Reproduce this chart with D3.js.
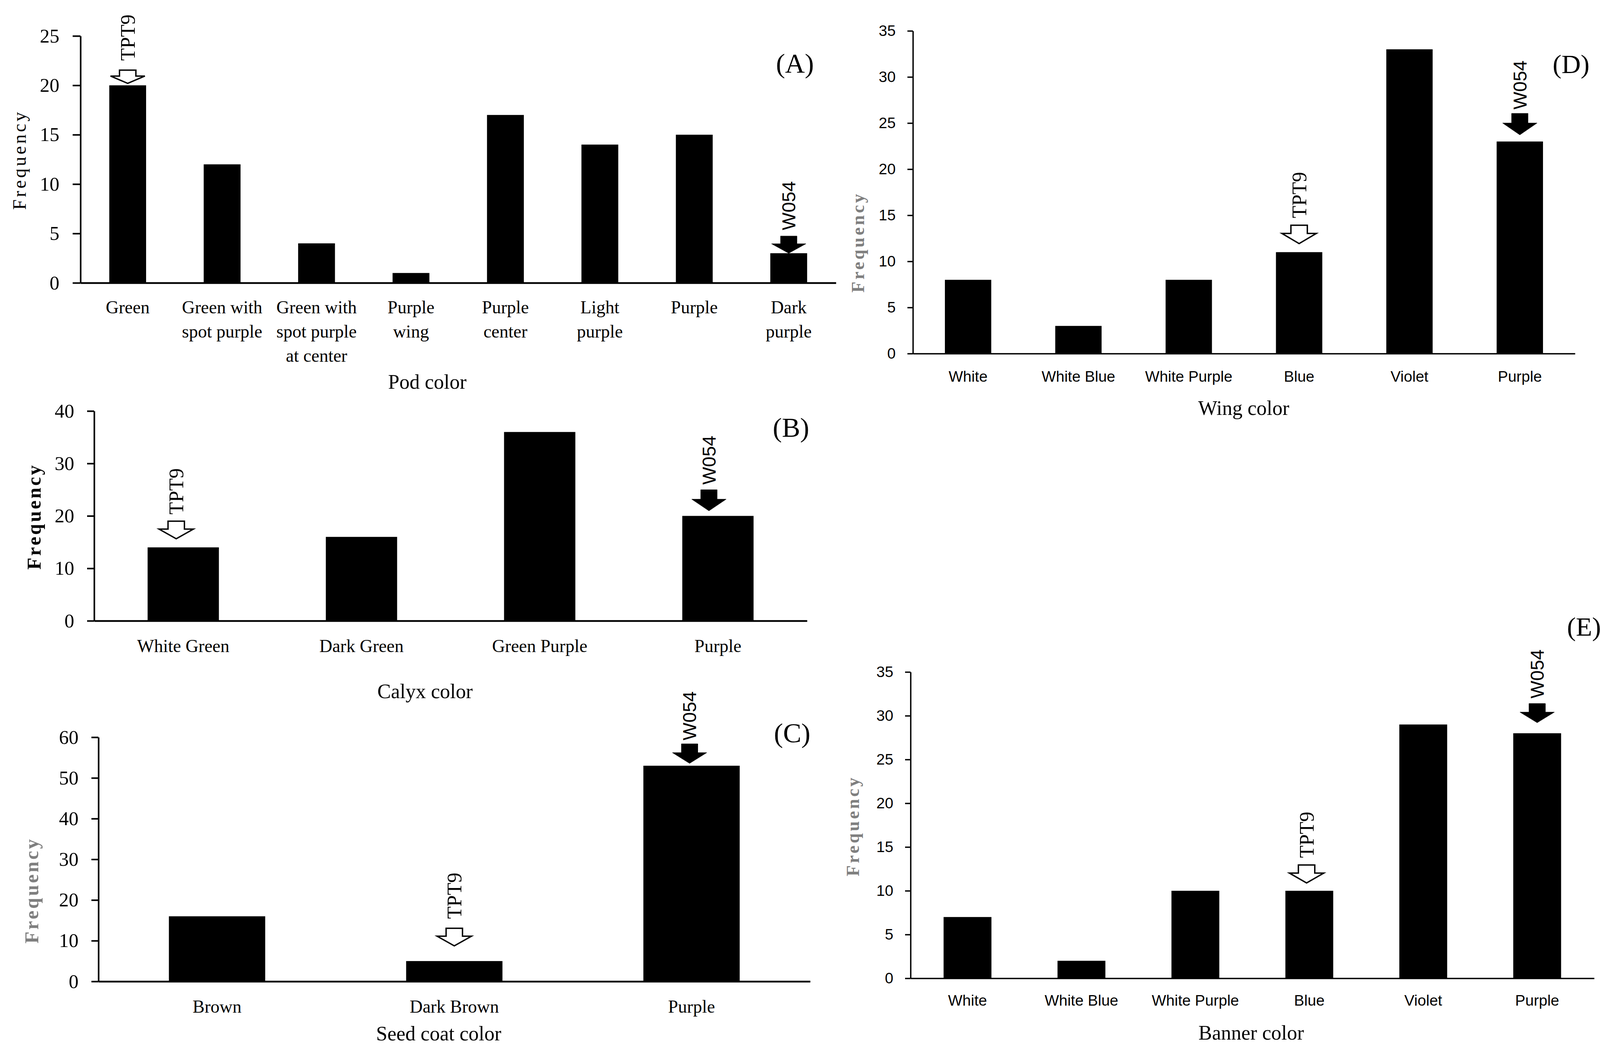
<!DOCTYPE html>
<html><head><meta charset="utf-8">
<script src="https://cdn.jsdelivr.net/npm/d3@7"></script>
<style>html,body{margin:0;padding:0;background:#fff;} svg{display:block;}</style>
</head><body>
<svg id="chart" width="4113" height="2685"></svg>
<script>
// ---------------- DATA ----------------
const podCategories = ["Green","Green with\nspot purple","Green with\nspot purple\nat center","Purple\nwing","Purple\ncenter","Light\npurple","Purple","Dark\npurple"];
const podValues = [20,12,4,1,17,14,15,3];
const podTicks = [0,5,10,15,20,25];

const calyxCategories = ["White Green","Dark Green","Green Purple","Purple"];
const calyxValues = [14,16,36,20];
const calyxTicks = [0,10,20,30,40];

const seedCategories = ["Brown","Dark Brown","Purple"];
const seedValues = [16,5,53];
const seedTicks = [0,10,20,30,40,50,60];

const wingCategories = ["White","White Blue","White Purple","Blue","Violet","Purple"];
const wingValues = [8,3,8,11,33,23];
const wingTicks = [0,5,10,15,20,25,30,35];

const bannerCategories = ["White","White Blue","White Purple","Blue","Violet","Purple"];
const bannerValues = [7,2,10,10,29,28];
const bannerTicks = [0,5,10,15,20,25,30,35];

const panelTags = ["(A)","(B)","(C)","(D)","(E)"];
const axisTitles = ["Pod color","Calyx color","Seed coat color","Wing color","Banner color"];
const yTitle = "Frequency";

const annotations = [
  {panel:"A", category:"Green", label:"TPT9", kind:"open"},
  {panel:"A", category:"Dark\npurple", label:"W054", kind:"filled"},
  {panel:"B", category:"White Green", label:"TPT9", kind:"open"},
  {panel:"B", category:"Purple", label:"W054", kind:"filled"},
  {panel:"C", category:"Dark Brown", label:"TPT9", kind:"open"},
  {panel:"C", category:"Purple", label:"W054", kind:"filled"},
  {panel:"D", category:"Blue", label:"TPT9", kind:"open"},
  {panel:"D", category:"Purple", label:"W054", kind:"filled"},
  {panel:"E", category:"Blue", label:"TPT9", kind:"open"},
  {panel:"E", category:"Purple", label:"W054", kind:"filled"}
];

// ---------------- LAYOUT / STYLE ----------------
const SERIF = "'Liberation Serif','Times New Roman',serif";
const SANS = "'Liberation Sans',Arial,sans-serif";

const panels = [
  {id:"A", cats:podCategories, vals:podValues, ticks:podTicks,
   x0:206, x1:2140, yTop:92, yBot:724, barFrac:0.39,
   tickSize:20, tickPad:34, tickFont:SERIF, tickSizePx:50, catFont:SERIF, catSize:46, catOffset:78, lineH:62,
   xStroke:4.5, yStroke:4,
   title:{x:1094, y:995, size:52}, tag:{x:2035, y:186, size:70},
   ylab:{x:52, y:409, size:48, weight:"normal", color:"#000", ls:6}},
  {id:"B", cats:calyxCategories, vals:calyxValues, ticks:calyxTicks,
   x0:241, x1:2066, yTop:1052, yBot:1589, barFrac:0.40,
   tickSize:18, tickPad:33, tickFont:SERIF, tickSizePx:50, catFont:SERIF, catSize:46, catOffset:80, lineH:62,
   xStroke:4.5, yStroke:4,
   title:{x:1088, y:1787, size:52}, tag:{x:2025, y:1118, size:70},
   ylab:{x:89, y:1322, size:50, weight:"bold", color:"#000", ls:5}},
  {id:"C", cats:seedCategories, vals:seedValues, ticks:seedTicks,
   x0:252, x1:2074, yTop:1887, yBot:2512, barFrac:0.406,
   tickSize:18, tickPad:33, tickFont:SERIF, tickSizePx:50, catFont:SERIF, catSize:46, catOffset:80, lineH:62,
   xStroke:4.5, yStroke:4,
   title:{x:1123, y:2663, size:52}, tag:{x:2028, y:1900, size:70},
   ylab:{x:83, y:2279, size:50, weight:"bold", color:"#7f7f7f", ls:5}},
  {id:"D", cats:wingCategories, vals:wingValues, ticks:wingTicks,
   x0:2337, x1:4032, yTop:79, yBot:905, barFrac:0.42,
   tickSize:14, tickPad:30, tickFont:SANS, tickSizePx:39, catFont:SANS, catSize:39, catOffset:72, lineH:50,
   xStroke:3.5, yStroke:3.5,
   title:{x:3184, y:1062, size:52}, tag:{x:4022, y:187, size:68},
   ylab:{x:2198, y:620, size:46, weight:"bold", color:"#7f7f7f", ls:5.5}},
  {id:"E", cats:bannerCategories, vals:bannerValues, ticks:bannerTicks,
   x0:2331, x1:4081, yTop:1720, yBot:2504, barFrac:0.42,
   tickSize:14, tickPad:30, tickFont:SANS, tickSizePx:39, catFont:SANS, catSize:39, catOffset:70, lineH:50,
   xStroke:3.5, yStroke:3.5,
   title:{x:3203, y:2661, size:52}, tag:{x:4055, y:1627, size:68},
   ylab:{x:2185, y:2114, size:46, weight:"bold", color:"#7f7f7f", ls:5.5}}
];
panels.forEach((p,i)=>{ p.tagText = panelTags[i]; p.titleText = axisTitles[i]; });

// arrow placement: gap between tip and bar top, arrow height, horizontal offset, gap to label
const annotationLayout = {
  "A-TPT9":{gap:5,  h:34, dx:0,   lg:24},
  "A-W054":{gap:0,  h:44, dx:0,   lg:15},
  "B-TPT9":{gap:22, h:45, dx:-18, lg:17},
  "B-W054":{gap:13, h:54, dx:-23, lg:13},
  "C-TPT9":{gap:39, h:45, dx:0,   lg:24},
  "C-W054":{gap:6,  h:50, dx:-5,  lg:9},
  "D-TPT9":{gap:22, h:47, dx:0,   lg:18},
  "D-W054":{gap:17, h:55, dx:0,   lg:10},
  "E-TPT9":{gap:20, h:46, dx:-7,  lg:18},
  "E-W054":{gap:27, h:49, dx:0,   lg:13}
};
const ARROW_HEAD_W = 88, ARROW_SHAFT_W = 42;

// ---------------- DRAW ----------------
const svg = d3.select("#chart");
svg.append("rect").attr("width",4113).attr("height",2685).attr("fill","#fff");

const scales = {};

panels.forEach(p => {
  const g = svg.append("g").attr("class","panel-"+p.id);
  const pad = 1 - p.barFrac;
  const x = d3.scaleBand().domain(p.cats).range([p.x0, p.x1]).paddingInner(pad).paddingOuter(pad/2);
  const ymax = d3.max(p.ticks);
  const y = d3.scaleLinear().domain([0, ymax]).range([p.yBot, p.yTop]);
  scales[p.id] = {x, y, p};

  // bars
  g.selectAll("rect.bar").data(p.cats.map((c,i)=>({c, v:p.vals[i]}))).join("rect")
    .attr("class","bar")
    .attr("x", d => x(d.c)).attr("width", x.bandwidth())
    .attr("y", d => y(d.v)).attr("height", d => y(0) - y(d.v))
    .attr("fill","#000");

  // y axis
  const ya = g.append("g").attr("transform",`translate(${p.x0},0)`)
    .call(d3.axisLeft(y).tickValues(p.ticks).tickSize(p.tickSize).tickSizeOuter(0).tickPadding(p.tickPad).tickFormat(d3.format("d")));
  ya.select(".domain").attr("stroke","#000").attr("stroke-width",p.yStroke);
  ya.selectAll(".tick line").attr("stroke","#000").attr("stroke-width",p.yStroke);
  ya.selectAll(".tick text").attr("font-family",p.tickFont).attr("font-size",p.tickSizePx).attr("fill","#000");

  // x axis
  const xa = g.append("g").attr("transform",`translate(0,${y(0)})`)
    .call(d3.axisBottom(x).tickSize(0).tickSizeOuter(0).tickFormat(""));
  xa.select(".domain").attr("stroke","#000").attr("stroke-width",p.xStroke);
  xa.selectAll(".tick text").remove();

  // category labels
  const lbl = g.selectAll("text.cat").data(p.cats).join("text")
    .attr("class","cat")
    .attr("text-anchor","middle")
    .attr("font-family",p.catFont).attr("font-size",p.catSize).attr("fill","#000");
  lbl.each(function(c){
    const t = d3.select(this);
    c.split("\n").forEach((line,li)=>{
      t.append("tspan").attr("x", x(c) + x.bandwidth()/2)
        .attr("y", y(0) + p.catOffset + li*p.lineH).text(line);
    });
  });

  // axis title
  g.append("text").attr("x",p.title.x).attr("y",p.title.y).attr("text-anchor","middle")
    .attr("font-family",SERIF).attr("font-size",p.title.size).attr("fill","#000").text(p.titleText);

  // panel tag
  g.append("text").attr("x",p.tag.x).attr("y",p.tag.y).attr("text-anchor","middle")
    .attr("font-family",SERIF).attr("font-size",p.tag.size).attr("fill","#000").text(p.tagText);

  // y title
  g.append("text").attr("transform",`translate(${p.ylab.x},${p.ylab.y}) rotate(-90)`)
    .attr("text-anchor","middle").attr("dy","0.3em")
    .attr("font-family",SERIF).attr("font-size",p.ylab.size).attr("font-weight",p.ylab.weight)
    .attr("letter-spacing",p.ylab.ls).attr("fill",p.ylab.color).text(yTitle);
});

// annotations
annotations.forEach(a => {
  const {x, y, p} = scales[a.panel];
  const L = annotationLayout[a.panel+"-"+a.label];
  const idx = p.cats.indexOf(a.category);
  const cx = x(a.category) + x.bandwidth()/2 + L.dx;
  const tip = y(p.vals[idx]) - L.gap;
  const headH = L.h * 0.55;
  const hw = ARROW_HEAD_W/2, sw = ARROW_SHAFT_W/2;
  const pts = [
    [cx-sw, tip-L.h],[cx+sw, tip-L.h],[cx+sw, tip-headH],[cx+hw, tip-headH],
    [cx, tip],[cx-hw, tip-headH],[cx-sw, tip-headH]
  ];
  svg.append("path").attr("d", d3.line()(pts) + "Z")
    .attr("fill", a.kind === "open" ? "#fff" : "#000")
    .attr("stroke","#000").attr("stroke-width", a.kind === "open" ? 3.5 : 1)
    .attr("stroke-linejoin","miter");
  svg.append("text")
    .attr("transform",`translate(${cx},${tip - L.h - L.lg}) rotate(-90)`)
    .attr("dy","0.35em").attr("text-anchor","start")
    .attr("font-family", a.label === "TPT9" ? SERIF : SANS)
    .attr("font-size", a.label === "TPT9" ? 52 : 48)
    .attr("fill","#000").text(a.label);
});
</script>
</body></html>
